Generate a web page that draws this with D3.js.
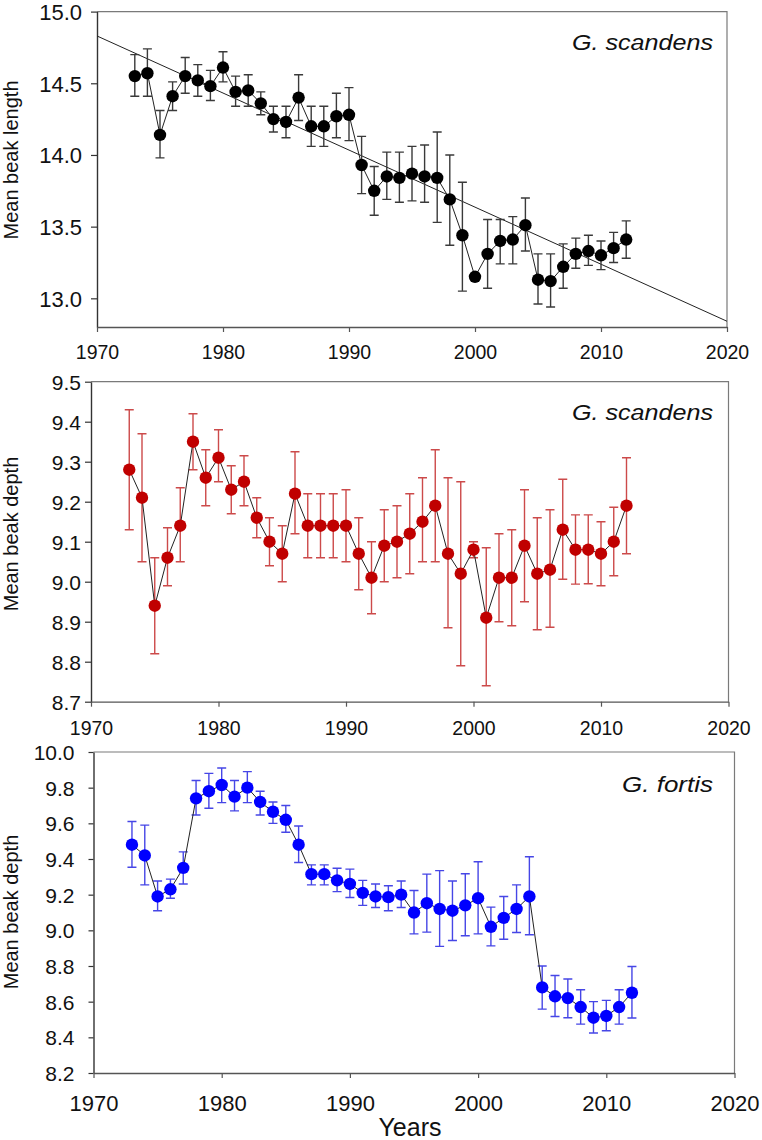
<!DOCTYPE html>
<html>
<head>
<meta charset="utf-8">
<script src="https://cdn.jsdelivr.net/npm/d3@7"></script>
<style>
  body { margin: 0; background: #fff; }
  text { font-family: "Liberation Sans", Arial, sans-serif; fill: #111; }
</style>
</head>
<body>
<div id="chart"></div>
<script>
// years of the census
var years = [1973, 1974, 1975, 1976, 1977, 1978, 1979, 1980, 1981, 1982,
             1983, 1984, 1985, 1986, 1987, 1988, 1989, 1990, 1991, 1992,
             1993, 1994, 1995, 1996, 1997, 1998, 1999, 2000, 2001, 2002,
             2003, 2004, 2005, 2006, 2007, 2008, 2009, 2010, 2011, 2012];
var xTicks = [1970, 1980, 1990, 2000, 2010, 2020];

// G. scandens, beak length
var scandensLength = [14.55, 14.57, 14.14, 14.41, 14.55, 14.52, 14.48, 14.61, 14.44, 14.45,
                      14.36, 14.25, 14.23, 14.40, 14.20, 14.20, 14.27, 14.28, 13.93, 13.75,
                      13.85, 13.84, 13.87, 13.85, 13.84, 13.69, 13.44, 13.15, 13.31, 13.40,
                      13.41, 13.51, 13.13, 13.12, 13.22, 13.31, 13.33, 13.30, 13.35, 13.41];
var scandensLengthHi = [14.70, 14.74, 14.31, 14.51, 14.68, 14.63, 14.59, 14.72, 14.55, 14.56,
                        14.44, 14.34, 14.34, 14.56, 14.34, 14.34, 14.43, 14.47, 14.13, 13.92,
                        14.02, 14.02, 14.06, 14.07, 14.16, 14.00, 13.81, 13.17, 13.55, 13.55,
                        13.57, 13.70, 13.31, 13.31, 13.38, 13.42, 13.44, 13.40, 13.46, 13.54];
var scandensLengthLo = [14.41, 14.41, 13.98, 14.31, 14.43, 14.41, 14.38, 14.51, 14.34, 14.34,
                        14.28, 14.16, 14.12, 14.24, 14.06, 14.06, 14.12, 14.10, 13.73, 13.58,
                        13.69, 13.67, 13.68, 13.67, 13.53, 13.37, 13.05, 13.13, 13.07, 13.24,
                        13.24, 13.33, 12.96, 12.94, 13.07, 13.21, 13.23, 13.20, 13.25, 13.28];
var lengthTrendYears = [1970, 2020];
var lengthTrend = [14.83, 12.84];
var lengthTicks = [13.0, 13.5, 14.0, 14.5, 15.0];

// G. scandens, beak depth
var scandensDepth = [9.28, 9.21, 8.94, 9.06, 9.14, 9.35, 9.26, 9.31, 9.23, 9.25,
                     9.16, 9.10, 9.07, 9.22, 9.14, 9.14, 9.14, 9.14, 9.07, 9.01,
                     9.09, 9.10, 9.12, 9.15, 9.19, 9.07, 9.02, 9.08, 8.91, 9.01,
                     9.01, 9.09, 9.02, 9.03, 9.13, 9.08, 9.08, 9.07, 9.10, 9.19];
var scandensDepthHi = [9.43, 9.37, 9.06, 9.135, 9.235, 9.42, 9.33, 9.38, 9.29, 9.315,
                       9.21, 9.16, 9.14, 9.325, 9.22, 9.22, 9.22, 9.23, 9.16, 9.10,
                       9.18, 9.19, 9.22, 9.26, 9.33, 9.26, 9.25, 9.10, 9.085, 9.12,
                       9.13, 9.23, 9.16, 9.18, 9.256, 9.167, 9.167, 9.15, 9.186, 9.31];
var scandensDepthLo = [9.13, 9.05, 8.82, 8.99, 9.05, 9.28, 9.19, 9.25, 9.17, 9.19,
                       9.11, 9.04, 9.00, 9.12, 9.06, 9.06, 9.06, 9.05, 8.98, 8.92,
                       9.00, 9.01, 9.02, 9.05, 9.05, 8.885, 8.79, 9.06, 8.74, 8.90,
                       8.89, 8.95, 8.88, 8.886, 9.006, 8.994, 8.995, 8.99, 9.015, 9.07];
var scandensDepthTicks = [8.7, 8.8, 8.9, 9.0, 9.1, 9.2, 9.3, 9.4, 9.5];

// G. fortis, beak depth
var fortisDepth = [9.48, 9.42, 9.19, 9.23, 9.35, 9.74, 9.78, 9.815, 9.75, 9.80,
                   9.72, 9.665, 9.62, 9.48, 9.315, 9.315, 9.28, 9.26, 9.21, 9.19,
                   9.186, 9.20, 9.10, 9.152, 9.12, 9.11, 9.14, 9.18, 9.02, 9.07,
                   9.12, 9.19, 8.68, 8.63, 8.62, 8.57, 8.51, 8.52, 8.57, 8.65];
var fortisDepthHi = [9.61, 9.59, 9.277, 9.287, 9.44, 9.84, 9.88, 9.91, 9.84, 9.89,
                     9.78, 9.72, 9.70, 9.585, 9.367, 9.367, 9.348, 9.343, 9.28, 9.26,
                     9.25, 9.277, 9.223, 9.315, 9.335, 9.277, 9.317, 9.385, 9.13, 9.19,
                     9.255, 9.413, 8.80, 8.747, 8.727, 8.667, 8.60, 8.607, 8.667, 8.797];
var fortisDepthLo = [9.354, 9.255, 9.11, 9.18, 9.26, 9.647, 9.685, 9.716, 9.67, 9.716,
                     9.647, 9.60, 9.55, 9.38, 9.255, 9.255, 9.217, 9.184, 9.14, 9.128,
                     9.11, 9.128, 8.98, 8.99, 8.91, 8.943, 8.97, 8.98, 8.913, 8.95,
                     8.988, 8.975, 8.558, 8.517, 8.51, 8.474, 8.424, 8.437, 8.474, 8.508];
var fortisDepthTicks = [8.2, 8.4, 8.6, 8.8, 9.0, 9.2, 9.4, 9.6, 9.8, 10.0];

var svg = d3.select("#chart")
  .append("svg")
  .attr("width", 762)
  .attr("height", 1140)
  .style("background", "#fff");

// stretch text horizontally a bit (the source figure is wider than tall)
function stretchTo(sel, len) {
  sel.attr("textLength", len).attr("lengthAdjust", "spacingAndGlyphs");
}

var panels = [
  { vals: scandensLength, hi: scandensLengthHi, lo: scandensLengthLo,
    yDomain: [12.8, 15.0], yTicks: lengthTicks,
    left: 97, right: 727, top: 11.6, bottom: 327,
    color: "#000", errColor: "#3a3a3a", yTick: 6, yPad: 9, yFont: 22,
    xFont: 19.5, xBase: 32, yTitle: "Mean beak length", titleY: 160,
    label: "G. scandens", labelY: 50, labelLen: 141,
    trend: true },
  { vals: scandensDepth, hi: scandensDepthHi, lo: scandensDepthLo,
    yDomain: [8.7, 9.5], yTicks: scandensDepthTicks,
    left: 91, right: 728.5, top: 381.7, bottom: 701.7,
    color: "#c00000", errColor: "#cc4a4a", yTick: 6, yPad: 4, yFont: 21,
    xFont: 19.5, xBase: 33, yTitle: "Mean beak depth", titleY: 534,
    label: "G. scandens", labelY: 420, labelLen: 141 },
  { vals: fortisDepth, hi: fortisDepthHi, lo: fortisDepthLo,
    yDomain: [8.2, 10.0], yTicks: fortisDepthTicks,
    left: 93.5, right: 734.5, top: 752, bottom: 1073,
    color: "#0000ff", errColor: "#4646e6", yTick: 5, yPad: 14, yFont: 21,
    xFont: 22, xBase: 38, yTitle: "Mean beak depth", titleY: 912,
    label: "G. fortis", labelY: 791.5, labelLen: 91 }
];

panels.forEach(drawPanel);

function drawPanel(p) {
  var x = d3.scaleLinear().domain([1970, 2020]).range([p.left, p.right]);
  var y = d3.scaleLinear().domain(p.yDomain).range([p.bottom, p.top]);
  var g = svg.append("g");

  // top and right frame
  g.append("path")
    .attr("d", "M" + p.left + "," + p.top + "H" + p.right + "V" + p.bottom)
    .attr("fill", "none")
    .attr("stroke", "#7a7a7a")
    .attr("stroke-width", 1.2);

  var yAxis = g.append("g")
    .attr("transform", "translate(" + p.left + ",0)")
    .call(d3.axisLeft(y).tickValues(p.yTicks).tickSize(p.yTick)
      .tickSizeOuter(0).tickPadding(p.yPad).tickFormat(d3.format(".1f")));
  yAxis.select(".domain").attr("stroke", "#333").attr("stroke-width", 1.4);
  yAxis.selectAll(".tick line").attr("stroke", "#333").attr("stroke-width", 1.2);
  yAxis.selectAll("text")
    .attr("font-size", p.yFont)
    .attr("font-family", "Liberation Sans, Arial, sans-serif")
    .attr("dy", "0.36em")
    .style("fill", "#111");

  var xAxis = g.append("g")
    .attr("transform", "translate(0," + p.bottom + ")")
    .call(d3.axisBottom(x).tickValues(xTicks).tickSize(5)
      .tickSizeOuter(0).tickFormat(d3.format("d")));
  xAxis.select(".domain").attr("stroke", "#555").attr("stroke-width", 1.3);
  xAxis.selectAll(".tick line").attr("stroke", "#555").attr("stroke-width", 1.2);
  xAxis.selectAll("text")
    .attr("font-size", p.xFont)
    .attr("font-family", "Liberation Sans, Arial, sans-serif")
    .attr("y", p.xBase)
    .attr("dy", 0)
    .style("fill", "#111");

  // regression line
  if (p.trend) {
    g.append("line")
      .attr("x1", x(lengthTrendYears[0])).attr("y1", y(lengthTrend[0]))
      .attr("x2", x(lengthTrendYears[1])).attr("y2", y(lengthTrend[1]))
      .attr("stroke", "#222")
      .attr("stroke-width", 1);
  }

  // error bars
  var cap = 4.5;
  var eb = g.append("g")
    .attr("stroke", p.errColor)
    .attr("stroke-width", 1.4)
    .attr("fill", "none");
  years.forEach(function(yr, i) {
    var cx = x(yr), y1 = y(p.hi[i]), y2 = y(p.lo[i]);
    eb.append("path")
      .attr("d", "M" + cx + "," + y1 + "V" + y2 +
                 "M" + (cx - cap) + "," + y1 + "H" + (cx + cap) +
                 "M" + (cx - cap) + "," + y2 + "H" + (cx + cap));
  });

  // connecting line
  var line = d3.line()
    .x(function(d, i) { return x(years[i]); })
    .y(function(d) { return y(d); });
  g.append("path")
    .datum(p.vals)
    .attr("d", line)
    .attr("fill", "none")
    .attr("stroke", "#222")
    .attr("stroke-width", 1);

  // points
  g.append("g").selectAll("circle")
    .data(p.vals)
    .enter()
    .append("circle")
      .attr("cx", function(d, i) { return x(years[i]); })
      .attr("cy", function(d) { return y(d); })
      .attr("r", 6.2)
      .attr("fill", p.color);

  // species label
  var lab = g.append("text")
    .attr("x", 713)
    .attr("y", p.labelY)
    .attr("text-anchor", "end")
    .attr("font-size", 22)
    .attr("font-style", "italic")
    .text(p.label);
  stretchTo(lab, p.labelLen);

  // y title
  g.append("text")
    .attr("transform", "translate(18," + p.titleY + ") rotate(-90)")
    .attr("text-anchor", "middle")
    .attr("font-size", 20)
    .text(p.yTitle);
}

svg.append("text")
  .attr("x", 410)
  .attr("y", 1136)
  .attr("text-anchor", "middle")
  .attr("font-size", 25)
  .text("Years");
</script>
</body>
</html>
